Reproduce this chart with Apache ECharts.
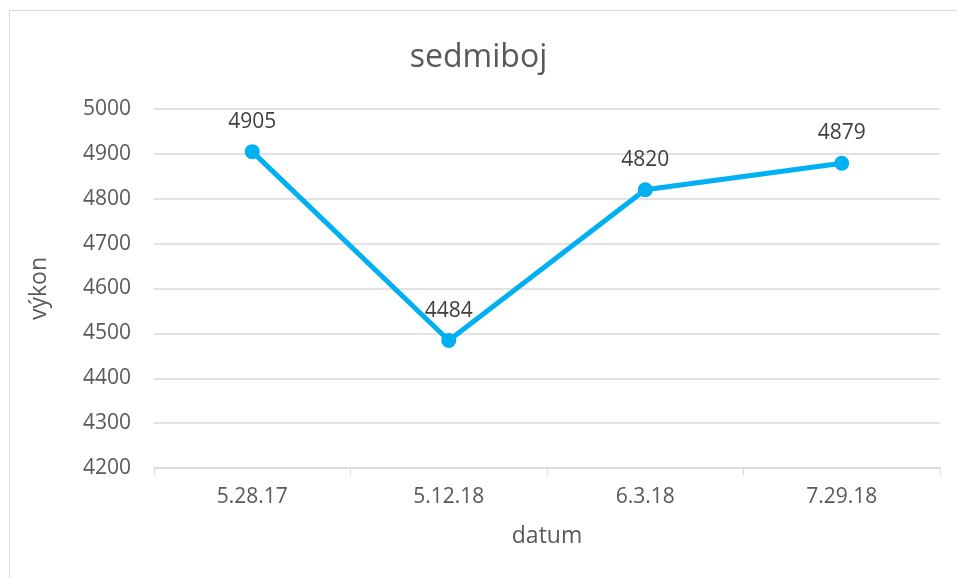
<!DOCTYPE html>
<html><head><meta charset="utf-8">
<script src="https://cdn.jsdelivr.net/npm/echarts@6/dist/echarts.min.js"></script>
<style>html,body{margin:0;padding:0;background:#fff}#c{width:957px;height:578px}</style>
</head><body><div id="c"></div>
<script>
const categories = ['5.28.17', '5.12.18', '6.3.18', '7.29.18'];
const values = [4905, 4484, 4820, 4879];
const yMin = 4200, yMax = 5000, yStep = 100;
const titleText = 'sedmiboj';
const xName = 'datum';
const yName = 'výkon';

const font = '"Open Sans", "Noto Sans", sans-serif';
const chart = echarts.init(document.getElementById('c'), null, {renderer: 'canvas'});
chart.setOption({
  animation: false,
  backgroundColor: '#fff',
  graphic: [{type: 'rect', shape: {x: 9.5, y: 10.5, width: 1000, height: 1000}, style: {fill: 'none', stroke: '#d9d9d9', lineWidth: 1}, silent: true}],
  title: {text: titleText, left: 'center', top: 37, textStyle: {fontFamily: font, fontSize: 32, fontWeight: 'normal', color: '#595959'}},
  grid: {left: 154, right: 17, top: 109, bottom: 110},
  xAxis: {
    type: 'category', data: categories, boundaryGap: true,
    name: xName, nameLocation: 'middle', nameGap: 57,
    nameTextStyle: {fontFamily: font, fontSize: 23, color: '#595959'},
    axisLine: {lineStyle: {color: '#d9d9d9', width: 1.5}},
    axisTick: {show: true, length: 7, lineStyle: {color: '#d9d9d9'}},
    axisLabel: {fontFamily: font, fontSize: 21, color: '#595959', margin: 19}
  },
  yAxis: {
    type: 'value', min: yMin, max: yMax, interval: yStep,
    name: yName, nameLocation: 'middle', nameGap: 103, nameRotate: 90,
    nameTextStyle: {fontFamily: font, fontSize: 23, color: '#595959'},
    axisLine: {show: false}, axisTick: {show: false},
    axisLabel: {fontFamily: font, fontSize: 21, color: '#595959', margin: 23, formatter: v => String(v)},
    splitLine: {lineStyle: {color: '#d9d9d9', width: 1.5}}
  },
  series: [{
    type: 'line', data: values,
    symbol: 'circle', symbolSize: 15,
    lineStyle: {color: '#00b0f0', width: 5},
    itemStyle: {color: '#00b0f0'},
    label: {show: true, position: 'top', distance: 12, fontFamily: font, fontSize: 21, color: '#404040'}
  }]
});
</script></body></html>
